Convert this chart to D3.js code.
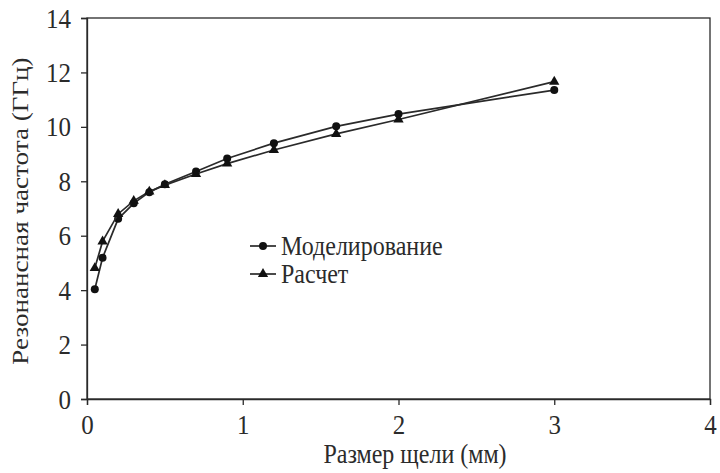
<!DOCTYPE html>
<html><head><meta charset="utf-8">
<script src="https://cdn.jsdelivr.net/npm/d3@7"></script>
<style>
body{margin:0;background:#fff}
svg{display:block}
svg text{font-family:"Liberation Serif","Tinos","Times New Roman",serif !important;}
</style>
</head><body>
<svg id="c" width="720" height="473"></svg>
<script>
const gapMm = [0.05, 0.1, 0.2, 0.3, 0.4, 0.5, 0.7, 0.9, 1.2, 1.6, 2.0, 3.0];
const simulated = [4.03, 5.19, 6.62, 7.19, 7.6, 7.89, 8.36, 8.84, 9.4, 10.02, 10.47, 11.35];
const calculated = [4.81, 5.79, 6.8, 7.28, 7.62, 7.86, 8.27, 8.65, 9.15, 9.74, 10.27, 11.66];
const seriesNames = ["Моделирование", "Расчет"];
const xTicks = [0, 1, 2, 3, 4];
const yTicks = [0, 2, 4, 6, 8, 10, 12, 14];
const xTitle = "Размер щели (мм)";
const yTitle = "Резонансная частота (ГГц)";

const svg = d3.select("#c");
const L = 87, R = 710, T = 18, B = 399;
const x = d3.scaleLinear().domain([0, 4]).range([L, R]);
const y = d3.scaleLinear().domain([0, 14]).range([B, T]);
const ink = "#2a2a2a", txt = "#2b2b2b";
const FONT = "Liberation Serif";
const SY = 1.13; // vertical stretch of the original figure's lettering

svg.append("rect").attr("x", L).attr("y", T).attr("width", R - L).attr("height", B - T)
  .attr("fill", "none").attr("stroke", ink).attr("stroke-width", 1.3);

const xa = svg.append("g").attr("transform", `translate(0,${B})`)
  .call(d3.axisBottom(x).tickValues(xTicks).tickFormat(d3.format("d")).tickSize(6));
const ya = svg.append("g").attr("transform", `translate(${L},0)`)
  .call(d3.axisLeft(y).tickValues(yTicks).tickFormat(d3.format("d")).tickSize(6));
[xa, ya].forEach(g => {
  g.attr("font-family", FONT).attr("font-size", 25);
  g.select(".domain").attr("stroke", ink).attr("stroke-width", 1.3);
  g.selectAll(".tick line").attr("stroke", ink).attr("stroke-width", 1.3);
  g.selectAll(".tick text").attr("fill", txt).attr("font-size", 25).attr("x", 0).attr("y", 0).attr("dy", null);
});
xa.selectAll(".tick text").attr("text-anchor", "middle").attr("transform", `translate(0,35) scale(1,${SY})`);
ya.selectAll(".tick text").attr("text-anchor", "end").attr("transform", `translate(-16,9) scale(1,${SY})`);

svg.append("text").attr("transform", `translate(415,463) scale(1,${SY})`).attr("text-anchor", "middle")
  .attr("font-size", 24).attr("fill", txt).text(xTitle);
svg.append("text").attr("transform", `translate(28,211) scale(1,${SY}) rotate(-90)`).attr("text-anchor", "middle")
  .attr("font-size", 24).attr("fill", txt).text(yTitle);

const line = d3.line().x(d => x(d[0])).y(d => y(d[1]));
const tri = d3.symbol().type(d3.symbolTriangle).size(46);

function drawSeries(vals, kind) {
  const pts = gapMm.map((g, i) => [g, vals[i]]);
  svg.append("path").datum(pts).attr("d", line).attr("fill", "none").attr("stroke", ink).attr("stroke-width", 1.7);
  if (kind === "circle") {
    svg.selectAll(null).data(pts).enter().append("circle")
      .attr("cx", d => x(d[0])).attr("cy", d => y(d[1])).attr("r", 4).attr("fill", "#111");
  } else {
    svg.selectAll(null).data(pts).enter().append("path").attr("d", tri)
      .attr("transform", d => `translate(${x(d[0])},${y(d[1])})`).attr("fill", "#111");
  }
}
drawSeries(simulated, "circle");
drawSeries(calculated, "triangle");

const lg = svg.append("g");
[0, 1].forEach(i => {
  const yy = 246 + i * 28;
  lg.append("line").attr("x1", 250).attr("x2", 276).attr("y1", yy).attr("y2", yy).attr("stroke", ink).attr("stroke-width", 1.7);
  if (i === 0) lg.append("circle").attr("cx", 263).attr("cy", yy).attr("r", 4).attr("fill", "#111");
  else lg.append("path").attr("d", tri).attr("transform", `translate(263,${yy})`).attr("fill", "#111");
  lg.append("text").attr("transform", `translate(281,${yy + 9}) scale(1,${SY})`).attr("font-size", 24)
    .attr("fill", txt).text(seriesNames[i]);
});
</script>
</body></html>
